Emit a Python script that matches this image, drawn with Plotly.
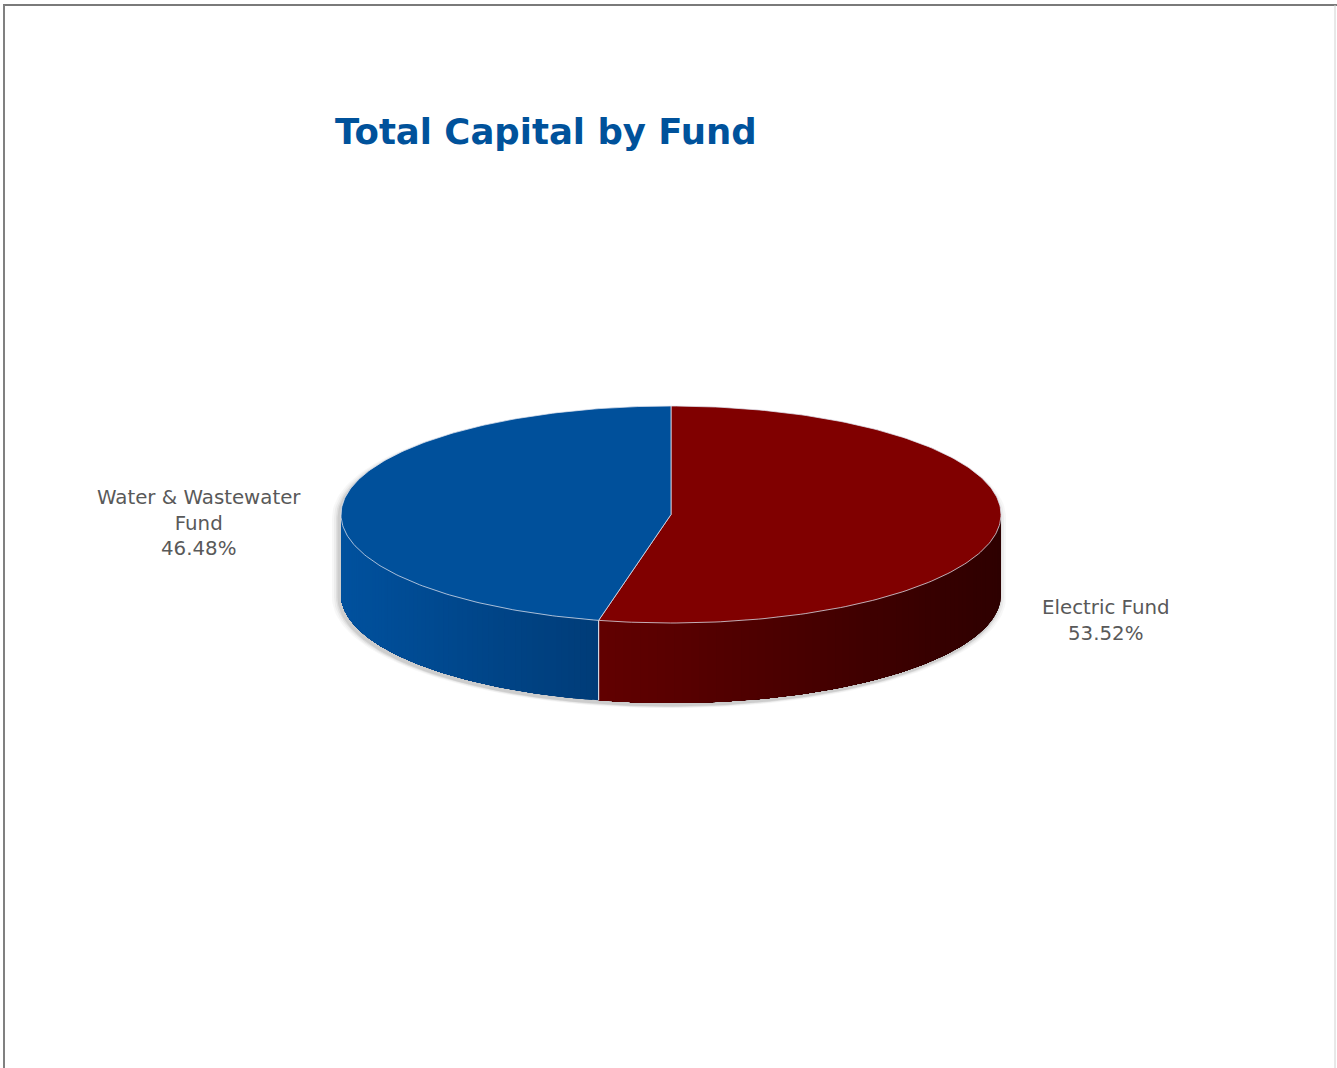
import numpy as np
import plotly.graph_objects as go

# Fund shares of total capital (percent)
funds = ["Electric Fund", "Water & Wastewater<br>Fund"]
shares = [53.52, 46.48]

# Slice styling: top face colour and the side's light -> dark gradient (left to right)
top_colors = ["#800000", "#00509B"]
side_light = [(0x62, 0x00, 0x00), (0x00, 0x51, 0x9E)]
side_dark = [(0x2E, 0x00, 0x00), (0x00, 0x3C, 0x78)]

# Cylinder geometry in pixel space
CX, CY, RX, RY, DEPTH = 671, 514.5, 330, 108.5, 80


def rim(theta_deg, dy=0.0, grow=0.0, dx=0.0):
    t = np.radians(theta_deg)
    return (CX + dx + (RX + grow) * np.sin(t),
            CY + dy - (RY + grow * RY / RX) * np.cos(t))


fig = go.Figure()

# Soft drop shadow under the cylinder
for grow, alpha in [(7, 0.03), (5, 0.04), (3, 0.06), (1.5, 0.08)]:
    a1 = np.linspace(270, 450, 120)
    a2 = np.linspace(90, 270, 120)
    xs1, ys1 = rim(a1, dy=3, grow=grow, dx=-2)
    xs2, ys2 = rim(a2, dy=DEPTH + 3, grow=grow, dx=-2)
    fig.add_trace(go.Scatter(
        x=np.concatenate([xs1, xs2]), y=np.concatenate([ys1, ys2]),
        fill="toself", fillcolor=f"rgba(0,0,0,{alpha})",
        line=dict(width=0), mode="lines", hoverinfo="skip", showlegend=False))

# Slice angle ranges, clockwise from 12 o'clock
total = sum(shares)
bounds = []
start = 0.0
for s in shares:
    end = start + 360.0 * s / total
    bounds.append((start, end))
    start = end

# Visible side walls (front half: 90..270 degrees) with horizontal gradient.
# Each band runs from its start angle to the end of the wall and is painted
# over the previous one, so no background shows between neighbouring bands.
for i, (s, e) in enumerate(bounds):
    lo, hi = max(s, 90.0), min(e, 270.0)
    if hi <= lo:
        continue
    xa, _ = rim(lo)
    xb, _ = rim(hi)
    xmin, xmax = min(xa, xb), max(xa, xb)
    n = 70
    th = np.linspace(lo, hi, n + 1)
    for k in range(n):
        arc = np.linspace(th[k], hi, max(2, int((hi - th[k]) * 2) + 2))
        xs, ys = rim(arc)
        xm, _ = rim((th[k] + th[k + 1]) / 2)
        f = (xm - xmin) / (xmax - xmin)
        c = tuple(int(round(side_light[i][j] + (side_dark[i][j] - side_light[i][j]) * f)) for j in range(3))
        col = f"rgb{c}"
        fig.add_trace(go.Scatter(
            x=np.concatenate([xs, xs[::-1], xs[:1]]),
            y=np.concatenate([ys, ys[::-1] + DEPTH, ys[:1]]),
            fill="toself", fillcolor=col, line=dict(width=0),
            mode="lines", hoverinfo="skip", showlegend=False))

# Seams between slices on the side wall
for s, e in bounds:
    for t in (s, e):
        tt = t % 360
        if 90 < tt < 270:
            x0, y0 = rim(tt)
            fig.add_trace(go.Scatter(
                x=[x0, x0], y=[y0, y0 + DEPTH], mode="lines",
                line=dict(width=1, color="rgba(215,222,235,0.9)"),
                hoverinfo="skip", showlegend=False))

# Top faces
for i, (s, e) in enumerate(bounds):
    th = np.linspace(s, e, 200)
    xs, ys = rim(th)
    fig.add_trace(go.Scatter(
        x=np.concatenate([[CX], xs, [CX]]), y=np.concatenate([[CY], ys, [CY]]),
        fill="toself", fillcolor=top_colors[i],
        line=dict(width=1, color="rgba(225,230,240,0.75)"),
        mode="lines", hoverinfo="skip", showlegend=False))

# Data labels
labels = [f"{n}<br>{v:.2f}%" for n, v in zip(funds, shares)]
fig.add_annotation(x=1106, y=620, text=labels[0], showarrow=False,
                   font=dict(family="DejaVu Sans", size=19.8, color="#595959"))
fig.add_annotation(x=199, y=523, text=labels[1], showarrow=False,
                   font=dict(family="DejaVu Sans", size=19.8, color="#595959"))

# Title
fig.add_annotation(x=546, y=131, text="<b>Total Capital by Fund</b>", showarrow=False,
                   font=dict(family="DejaVu Sans", size=35.5, color="#00529B"))

# Chart frame
fig.add_shape(type="line", x0=3, x1=1337, y0=5, y1=5, line=dict(color="#7a7a7a", width=2))
fig.add_shape(type="line", x0=4, x1=4, y0=5, y1=1068, line=dict(color="#808080", width=2))
fig.add_shape(type="line", x0=1335, x1=1335, y0=5, y1=1068, line=dict(color="#d0d0d0", width=1))

fig.update_layout(
    width=1337, height=1068,
    margin=dict(l=0, r=0, t=0, b=0),
    paper_bgcolor="white", plot_bgcolor="white",
    xaxis=dict(range=[0, 1337], visible=False, fixedrange=True),
    yaxis=dict(range=[1068, 0], visible=False, fixedrange=True),
    showlegend=False,
)

fig.write_html("out.html")
